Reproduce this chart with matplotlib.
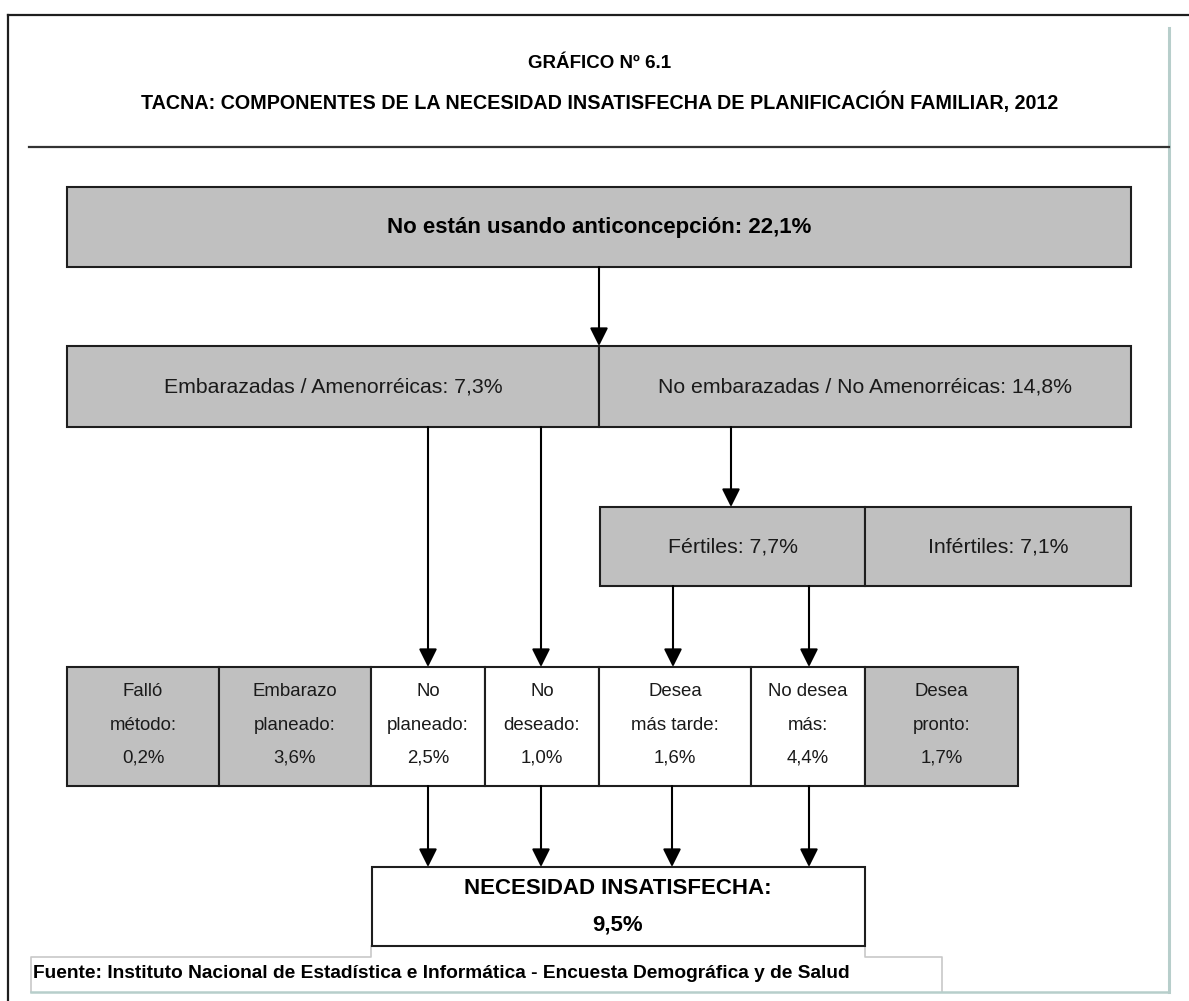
import matplotlib
matplotlib.use("Agg")
import matplotlib.pyplot as plt
from matplotlib.patches import Rectangle

plt.rcParams['font.family'] = ['Liberation Sans', 'DejaVu Sans']

# --- data ---
title = "GRÁFICO Nº 6.1"
subtitle = "TACNA: COMPONENTES DE LA NECESIDAD INSATISFECHA DE PLANIFICACIÓN FAMILIAR, 2012"
source = "Fuente: Instituto Nacional de Estadística e Informática - Encuesta Demográfica y de Salud"

top_label = "No están usando anticoncepción"
top_value = 22.1

split_labels = ["Embarazadas / Amenorréicas", "No embarazadas / No Amenorréicas"]
split_values = [7.3, 14.8]

fert_labels = ["Fértiles", "Infértiles"]
fert_values = [7.7, 7.1]

comp_labels = ["Falló\nmétodo:", "Embarazo\nplaneado:", "No\nplaneado:", "No\ndeseado:",
               "Desea\nmás tarde:", "No desea\nmás:", "Desea\npronto:"]
comp_values = [0.2, 3.6, 2.5, 1.0, 1.6, 4.4, 1.7]
comp_unmet = [False, False, True, True, True, True, False]

total_label = "NECESIDAD INSATISFECHA:"
total_value = 9.5


def pct(v):
    return f"{v:.1f}".replace(".", ",") + "%"


# --- layout (pixel coords, y down) ---
W, H = 1189, 1001
GRAY = "#c0c0c0"
EDGE = "#1e1e1e"
TEAL = "#b7cecb"
LW = 1.5

fig = plt.figure(figsize=(W / 100, H / 100), dpi=100)
ax = fig.add_axes([0, 0, 1, 1])
ax.set_xlim(0, W)
ax.set_ylim(H, 0)
ax.axis("off")


def box(x0, x1, y0, y1, fill, lw=LW, ec=EDGE):
    ax.add_patch(Rectangle((x0, y0), x1 - x0, y1 - y0, facecolor=fill,
                           edgecolor=ec, lw=lw, zorder=2))


def arrow(x, y0, y1):
    ax.annotate("", xy=(x, y1), xytext=(x, y0),
                arrowprops=dict(arrowstyle="-|>,head_length=1.1,head_width=0.55",
                                color="black", lw=1.5, shrinkA=0, shrinkB=0),
                zorder=3)


# frame
ax.plot([8, W], [15, 15], color=EDGE, lw=1.6)
ax.plot([8, 8], [15, H], color=EDGE, lw=1.6)
ax.plot([1169, 1169], [28, 992], color=TEAL, lw=2.2)
ax.plot([29, 1169], [147, 147], color="#333333", lw=1.6)

ax.text(600, 63, title, ha="center", va="center", fontsize=13.5, fontweight="bold")
ax.text(600, 102, subtitle, ha="center", va="center", fontsize=14.2, fontweight="bold")

# level 1
box(67, 1131, 187, 267, GRAY)
ax.text(599, 227, f"{top_label}: {pct(top_value)}", ha="center", va="center",
        fontsize=16, fontweight="bold", zorder=4)
arrow(599, 267, 346)

# level 2
split_edges = [67, 599, 1131]
for i, (lab, v) in enumerate(zip(split_labels, split_values)):
    box(split_edges[i], split_edges[i + 1], 346, 427, GRAY)
    ax.text((split_edges[i] + split_edges[i + 1]) / 2, 387, f"{lab}: {pct(v)}",
            ha="center", va="center", fontsize=15.3, color="#1a1a1a", zorder=4)

arrow(428, 427, 667)
arrow(541, 427, 667)
arrow(731, 427, 507)

# level 3
fert_edges = [600, 865, 1131]
for i, (lab, v) in enumerate(zip(fert_labels, fert_values)):
    box(fert_edges[i], fert_edges[i + 1], 507, 586, GRAY)
    ax.text((fert_edges[i] + fert_edges[i + 1]) / 2, 547, f"{lab}: {pct(v)}",
            ha="center", va="center", fontsize=15.3, color="#1a1a1a", zorder=4)

arrow(673, 586, 667)
arrow(809, 586, 667)

# level 4 components
comp_edges = [67, 219, 371, 485, 599, 751, 865, 1018]
for i, (lab, v, unmet) in enumerate(zip(comp_labels, comp_values, comp_unmet)):
    x0, x1 = comp_edges[i], comp_edges[i + 1]
    box(x0, x1, 667, 786, "white" if unmet else GRAY)
    lines = lab.split("\n") + [pct(v)]
    for ly, t in zip([691, 725, 758], lines):
        ax.text((x0 + x1) / 2, ly, t, ha="center", va="center",
                fontsize=13.4, color="#1a1a1a", zorder=4)

for x in [428, 541, 672, 809]:
    arrow(x, 786, 867)

# source box outline
ax.plot([31, 31, 371, 371], [992, 957, 957, 946], color="#c8c8c8", lw=1.2)
ax.plot([865, 865, 942, 942], [946, 957, 957, 992], color="#c8c8c8", lw=1.2)
ax.plot([31, 1169], [992, 992], color=TEAL, lw=1.8)
ax.text(33, 974, source, ha="left", va="center", fontsize=13.8, fontweight="bold")

# total
box(372, 865, 867, 946, "white")
ax.text(618, 888, total_label, ha="center", va="center", fontsize=16,
        fontweight="bold", zorder=4)
ax.text(618, 925, pct(total_value), ha="center", va="center", fontsize=16,
        fontweight="bold", zorder=4)

fig.savefig("out.png", dpi=100)
